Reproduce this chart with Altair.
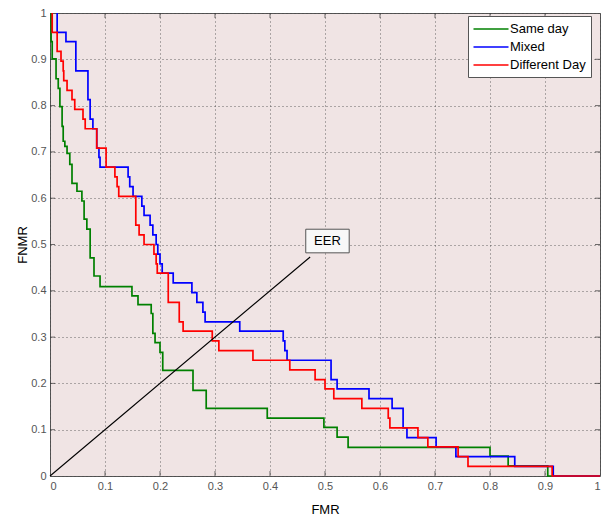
import altair as alt
import pandas as pd

# ---- data (step curves: each point = level that ends at given FMR) ----
same_fmr = [0.002, 0.004, 0.011, 0.015, 0.018, 0.022, 0.024, 0.027, 0.031, 0.036, 0.040, 0.049,
            0.058, 0.062, 0.067, 0.073, 0.073, 0.080, 0.091, 0.149, 0.160, 0.184, 0.187, 0.191,
            0.200, 0.205, 0.260, 0.284, 0.395, 0.498, 0.522, 0.542, 0.800, 0.833, 0.905, 1.0]
same_fnmr = [1.0, 0.938, 0.901, 0.858, 0.837, 0.798, 0.755, 0.723, 0.712, 0.697, 0.673, 0.632,
             0.615, 0.594, 0.555, 0.533, 0.508, 0.471, 0.432, 0.409, 0.389, 0.370, 0.351, 0.308,
             0.288, 0.267, 0.228, 0.185, 0.146, 0.125, 0.105, 0.084, 0.062, 0.043, 0.022, 0.0]

mixed_fmr = [0.013, 0.029, 0.047, 0.069, 0.073, 0.078, 0.085, 0.089, 0.091, 0.142,
             0.145, 0.151, 0.167, 0.171, 0.182, 0.187, 0.193, 0.196, 0.200, 0.204,
             0.224, 0.258, 0.267, 0.278, 0.282, 0.345, 0.424, 0.427, 0.431, 0.511,
             0.522, 0.580, 0.622, 0.642, 0.649, 0.702, 0.738, 0.845, 0.915, 1.0]
mixed_fnmr = [1.0, 0.958, 0.938, 0.875, 0.813, 0.771, 0.750, 0.708, 0.688, 0.667,
              0.646, 0.625, 0.604, 0.583, 0.563, 0.542, 0.521, 0.500, 0.479, 0.458,
              0.438, 0.417, 0.396, 0.375, 0.354, 0.333, 0.313, 0.292, 0.271, 0.250,
              0.208, 0.188, 0.167, 0.146, 0.104, 0.083, 0.063, 0.042, 0.021, 0.0]

diff_fmr = [0.004, 0.013, 0.020, 0.024, 0.025, 0.031, 0.040, 0.045, 0.060, 0.064,
            0.085, 0.102, 0.118, 0.122, 0.125, 0.156, 0.162, 0.171, 0.189, 0.193,
            0.195, 0.215, 0.235, 0.242, 0.295, 0.307, 0.369, 0.436, 0.482, 0.500,
            0.516, 0.567, 0.615, 0.618, 0.669, 0.687, 0.742, 0.760, 0.913, 1.0]
diff_fnmr = [1.0, 0.958, 0.917, 0.896, 0.875, 0.854, 0.833, 0.813, 0.792, 0.771,
             0.750, 0.708, 0.667, 0.646, 0.625, 0.604, 0.542, 0.521, 0.500, 0.479,
             0.458, 0.438, 0.375, 0.333, 0.313, 0.292, 0.271, 0.250, 0.229, 0.208,
             0.188, 0.167, 0.146, 0.125, 0.104, 0.083, 0.063, 0.042, 0.021, 0.0]

series_names = ["Same day", "Mixed", "Different Day"]
series_colors = ["#008000", "#0000ff", "#ff0000"]

eer_fmr = [0.0, 0.473]
eer_fnmr = [0.0, 0.473]
eer_label = "EER"
eer_box = {"x": 0.465, "x2": 0.544, "y": 0.482, "y2": 0.533}
eer_text_pos = (0.5045, 0.508)

tick_values = [0.0, 0.1, 0.2, 0.3, 0.4, 0.5, 0.6, 0.7, 0.8, 0.9, 1.0]

rows = []
for name, xs, ys in [("Same day", same_fmr, same_fnmr),
                     ("Mixed", mixed_fmr, mixed_fnmr),
                     ("Different Day", diff_fmr, diff_fnmr)]:
    for i, (a, b) in enumerate(zip(xs, ys)):
        rows.append({"fmr": a, "fnmr": b, "series": name, "idx": i})
df = pd.DataFrame(rows)

FONT = "Liberation Sans"
xscale = alt.Scale(domain=[0, 1], nice=False, zero=False)
yscale = alt.Scale(domain=[0, 1], nice=False, zero=False)

xaxis = alt.Axis(values=tick_values, format="~g", title="FMR", grid=True)
yaxis = alt.Axis(values=tick_values, format="~g", title="FNMR", grid=True)

curves = alt.Chart(df).mark_line(interpolate="step-before", strokeWidth=1.7).encode(
    x=alt.X("fmr:Q", scale=xscale, axis=xaxis),
    y=alt.Y("fnmr:Q", scale=yscale, axis=yaxis),
    color=alt.Color("series:N",
                    scale=alt.Scale(domain=series_names, range=series_colors),
                    sort=series_names,
                    legend=alt.Legend(title=None, orient="none", legendX=418, legendY=3,
                                      symbolType="M-2.5,0H2.5", symbolSize=196,
                                      symbolOffset=10,
                                      symbolStrokeWidth=1.5, labelFontSize=13,
                                      labelFont=FONT, labelColor="#000",
                                      labelOffset=11, padding=5, rowPadding=3,
                                      fillColor="#ffffff", strokeColor="#555555")),
    order="idx:Q",
)

eer_df = pd.DataFrame({"fmr": eer_fmr, "fnmr": eer_fnmr})
eer_line = alt.Chart(eer_df).mark_line(color="black", strokeWidth=1.1).encode(
    x=alt.X("fmr:Q", scale=xscale), y=alt.Y("fnmr:Q", scale=yscale))

box_df = pd.DataFrame([eer_box])
eer_rect = alt.Chart(box_df).mark_rect(fill="#f8f8f8", stroke="#555555", strokeWidth=1).encode(
    x="x:Q", x2="x2:Q", y="y:Q", y2="y2:Q")

txt_df = pd.DataFrame({"x": [eer_text_pos[0]], "y": [eer_text_pos[1]], "t": [eer_label]})
eer_text = alt.Chart(txt_df).mark_text(font=FONT, fontSize=13, color="black",
                                        align="center", baseline="middle").encode(
    x="x:Q", y="y:Q", text="t:N")

inner = [v for v in tick_values[1:-1]]
tb = pd.DataFrame({"v": inner * 2, "edge": [0.0] * len(inner) + [1.0] * len(inner)})
ticks_x = alt.Chart(tb).mark_tick(orient="vertical", size=10, thickness=1, color="#333",
                                  clip=True).encode(x="v:Q", y="edge:Q")
ticks_y = alt.Chart(tb).mark_tick(orient="horizontal", size=10, thickness=1, color="#333",
                                  clip=True).encode(y="v:Q", x="edge:Q")

chart = alt.layer(eer_rect, ticks_x, ticks_y, curves, eer_line, eer_text).properties(
    width=550, height=463,
    autosize=alt.AutoSizeParams(type="none"),
    padding={"left": 42, "top": 5, "right": 3, "bottom": 45},
).configure_view(
    fill="#f0e4e4", stroke="#555555", strokeWidth=1,
).configure_axis(
    domain=False, ticks=False, labelFont=FONT, labelFontSize=11, labelColor="#555555",
    labelPadding=4, titleFont=FONT, titleFontSize=13, titleFontWeight="normal",
    titleColor="#000000", gridColor="#444444", gridDash=[1, 3], gridWidth=1, gridOpacity=0.8,
).configure_axisX(titlePadding=12).configure_axisY(titlePadding=1)

chart.save("out.html", embed_options={"renderer": "svg", "actions": False})
